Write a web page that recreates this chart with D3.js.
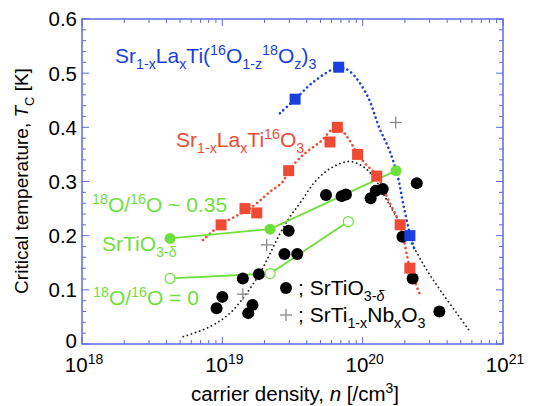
<!DOCTYPE html>
<html><head><meta charset="utf-8">
<script src="https://cdn.jsdelivr.net/npm/d3@7"></script>
<style>body{margin:0;background:#fff}svg{display:block}text{font-family:"Liberation Sans",Arial,Helvetica,sans-serif}</style>
</head><body><svg id="c" width="535" height="406"></svg>
<script>
// ---- data ----
const blackN  = [9.1e18,1.0e19,1.4e19,1.53e19,1.64e19,1.82e19,2.97e19,2.77e19,3.42e19,5.48e19,7.08e19,7.6e19,1.14e20,1.24e20,1.39e20,2.43e20,1.92e20,2.27e20,3.52e20];
const blackTc = [0.066,0.087,0.121,0.057,0.072,0.129,0.209,0.166,0.166,0.275,0.273,0.276,0.269,0.283,0.286,0.297,0.198,0.121,0.060];
const crossN  = [1.72e20,2.07e19,1.40e19];
const crossTc = [0.409,0.183,0.092];
const redN    = [9.8e18,1.45e19,1.76e19,2.97e19,5.85e19,6.6e19,9.2e19,1.26e20,1.85e20,2.17e20];
const redTc   = [0.22,0.25,0.242,0.32,0.373,0.40,0.35,0.31,0.22,0.14];
const blueN   = [3.3e19,6.75e19,2.17e20];
const blueTc  = [0.452,0.511,0.20];
const greenFilledN  = [4.24e18,2.19e19,1.73e20];
const greenFilledTc = [0.195,0.212,0.32];
const greenOpenN    = [4.24e18,2.19e19,7.9e19];
const greenOpenTc   = [0.121,0.13,0.226];
// guide curves (log10 n exponents, Tc)
const blackCurveE = [18.722,18.912,19.055,19.174,19.268,19.34,19.411,19.482,19.553,19.672,19.789,19.91,20.005,20.076,20.171,20.266,20.361,20.456,20.551,20.67,20.765];
const blackCurveT = [0.0135,0.032,0.057,0.094,0.131,0.167,0.204,0.235,0.260,0.303,0.327,0.337,0.327,0.309,0.266,0.223,0.180,0.137,0.100,0.057,0.023];
const redCurveE = [18.862,18.99,19.174,19.245,19.34,19.432,19.473,19.575,19.696,19.817,19.896,19.96,20.029,20.102,20.183,20.266,20.337,20.404];
const redCurveT = [0.192,0.22,0.247,0.26,0.281,0.30,0.32,0.349,0.373,0.401,0.38,0.352,0.33,0.311,0.266,0.22,0.141,0.094];
const blueCurveE = [19.41,19.52,19.65,19.83,19.91,20.03,20.12,20.19,20.25,20.29,20.34,20.37];
const blueCurveT = [0.426,0.452,0.484,0.511,0.503,0.46,0.398,0.358,0.309,0.257,0.20,0.174];
const xTickExp = [18,19,20,21];
const yTicks = [0,0.1,0.2,0.3,0.4,0.5,0.6];

// ---- setup ----
const svg = d3.select("#c");
const L=82,R=503,T=19,B=344;
const x = d3.scaleLog().domain([1e18,1e21]).range([L,R]);
const y = d3.scaleLinear().domain([0,0.6]).range([B,T]);
const FRAME="#5b6be6", BLUE="#1a3fe0", RED="#ef4a33", GREEN="#6ee03c";

function rich(g, segs, size, attrs){
  const t = g.append("text").attr("font-size",size);
  Object.entries(attrs||{}).forEach(([k,v])=>t.attr(k,v));
  let cur=0;
  segs.forEach(s=>{
    const [txt,type,italic]=s;
    const target = type==="sub"? size*0.3 : type==="sup"? -size*0.4 : 0;
    const ts=t.append("tspan").text(txt).attr("dy",target-cur);
    if(type==="sub"||type==="sup") ts.attr("font-size",size*0.68);
    if(italic) ts.attr("font-style","italic");
    cur=target;
  });
  return t;
}

// frame & ticks
const ax = svg.append("g");
ax.append("rect").attr("x",L).attr("y",T).attr("width",R-L).attr("height",B-T)
  .attr("fill","none").attr("stroke",FRAME).attr("stroke-width",1.5);
const xMinor=[];
for(let e=18;e<21;e++) for(let m=2;m<=9;m++) xMinor.push(m*Math.pow(10,e));
xMinor.forEach(v=>{
  ax.append("line").attr("x1",x(v)).attr("x2",x(v)).attr("y1",B).attr("y2",B-4).attr("stroke",FRAME);
  ax.append("line").attr("x1",x(v)).attr("x2",x(v)).attr("y1",T).attr("y2",T+4).attr("stroke",FRAME);
});
xTickExp.forEach(e=>{
  const v=Math.pow(10,e);
  ax.append("line").attr("x1",x(v)).attr("x2",x(v)).attr("y1",B).attr("y2",B-7).attr("stroke",FRAME);
  ax.append("line").attr("x1",x(v)).attr("x2",x(v)).attr("y1",T).attr("y2",T+7).attr("stroke",FRAME);
  rich(svg,[["10"],[String(e),"sup"]],20.5,{x:x(v)+2,y:372,"text-anchor":"middle",fill:"#000"});
});
d3.range(0,0.6001,0.02).forEach(v=>{
  const major = Math.abs(v*10-Math.round(v*10))<1e-6;
  const len = major?7:4;
  ax.append("line").attr("x1",L).attr("x2",L+len).attr("y1",y(v)).attr("y2",y(v)).attr("stroke",FRAME);
  ax.append("line").attr("x1",R).attr("x2",R-len).attr("y1",y(v)).attr("y2",y(v)).attr("stroke",FRAME);
});
yTicks.forEach(v=>{
  svg.append("text").attr("x",77).attr("y",y(v)).attr("dy",v===0?"0.2em":"0.36em").attr("text-anchor","end")
    .attr("font-size",20.5).text(v===0?"0":v.toFixed(1));
});

// axis titles
rich(svg,[["carrier density, "],["n","n",true],[" [/cm"],["3","sup"],["]"]],20.5,{x:295,y:401,"text-anchor":"middle"});
rich(svg,[["Critical temperature, "],["T","n",true],["C","sub"],[" [K]"]],19,{transform:"translate(28,181) rotate(-90)","text-anchor":"middle"});

// curves
const line = d3.line().curve(d3.curveCatmullRom.alpha(0.5));
function curve(E,Tc,color,w,dash){
  svg.append("path").attr("d",line(E.map((e,i)=>[x(Math.pow(10,e)),y(Tc[i])])))
    .attr("fill","none").attr("stroke",color).attr("stroke-width",w)
    .attr("stroke-dasharray",dash).attr("stroke-linecap","round");
}
curve(blackCurveE,blackCurveT,"#222",1.8,"0.1,4.2");
curve(redCurveE,redCurveT,RED,2.6,"0.1,4.6");
curve(blueCurveE,blueCurveT,BLUE,2.6,"0.1,4.6");

// green lines
const lin = d3.line();
svg.append("path").attr("d",lin(greenFilledN.map((n,i)=>[x(n),y(greenFilledTc[i])])))
  .attr("fill","none").attr("stroke",GREEN).attr("stroke-width",1.8);
svg.append("path").attr("d",lin(greenOpenN.map((n,i)=>[x(n),y(greenOpenTc[i])])))
  .attr("fill","none").attr("stroke",GREEN).attr("stroke-width",1.8);

// black circles
svg.append("g").selectAll("circle").data(blackN).join("circle")
  .attr("cx",d=>x(d)).attr("cy",(d,i)=>y(blackTc[i])).attr("r",6).attr("fill","#000");
// crosses
const crossG = svg.append("g").attr("stroke","#8a8a8a").attr("stroke-width",1.3);
crossN.forEach((n,i)=>{
  const cx=x(n), cy=y(crossTc[i]);
  crossG.append("line").attr("x1",cx-6).attr("x2",cx+6).attr("y1",cy).attr("y2",cy);
  crossG.append("line").attr("x1",cx).attr("x2",cx).attr("y1",cy-6).attr("y2",cy+6);
});
// squares
const sq=11;
svg.append("g").selectAll("rect").data(redN).join("rect")
  .attr("x",d=>x(d)-sq/2).attr("y",(d,i)=>y(redTc[i])-sq/2).attr("width",sq).attr("height",sq).attr("fill",RED);
svg.append("g").selectAll("rect").data(blueN).join("rect")
  .attr("x",d=>x(d)-sq/2).attr("y",(d,i)=>y(blueTc[i])-sq/2).attr("width",sq).attr("height",sq).attr("fill",BLUE);
// green markers
svg.append("g").selectAll("circle").data(greenFilledN).join("circle")
  .attr("cx",d=>x(d)).attr("cy",(d,i)=>y(greenFilledTc[i])).attr("r",5.5).attr("fill",GREEN);
svg.append("g").selectAll("circle").data(greenOpenN).join("circle")
  .attr("cx",d=>x(d)).attr("cy",(d,i)=>y(greenOpenTc[i])).attr("r",5).attr("fill","#fff").attr("stroke",GREEN).attr("stroke-width",1.2);

// annotations
rich(svg,[["Sr"],["1-x","sub"],["La"],["x","sub"],["Ti("],["16","sup"],["O"],["1-z","sub"],["18","sup"],["O"],["z","sub"],[")"],["3","sub"]],21,{x:115,y:63,fill:BLUE});
rich(svg,[["Sr"],["1-x","sub"],["La"],["x","sub"],["Ti"],["16","sup"],["O"],["3","sub"]],21,{x:176,y:147,fill:RED});
rich(svg,[["18","sup"],["O/"],["16","sup"],["O ~ 0.35"]],21,{x:92,y:212,fill:GREEN});
rich(svg,[["SrTiO"],["3-\u03b4","sub"]],21,{x:102,y:251,fill:GREEN});
rich(svg,[["18","sup"],["O/"],["16","sup"],["O = 0"]],21,{x:93,y:305,fill:GREEN});

// legend
svg.append("circle").attr("cx",286).attr("cy",288).attr("r",6).attr("fill","#000");
rich(svg,[["; SrTiO"],["3-","sub"],["\u03b4","sub",true]],21,{x:298,y:295});
const lg=svg.append("g").attr("stroke","#8a8a8a").attr("stroke-width",1.3);
lg.append("line").attr("x1",280).attr("x2",292).attr("y1",315).attr("y2",315);
lg.append("line").attr("x1",286).attr("x2",286).attr("y1",309).attr("y2",321);
rich(svg,[["; SrTi"],["1-x","sub"],["Nb"],["x","sub"],["O"],["3","sub"]],21,{x:298,y:322});
</script></body></html>
